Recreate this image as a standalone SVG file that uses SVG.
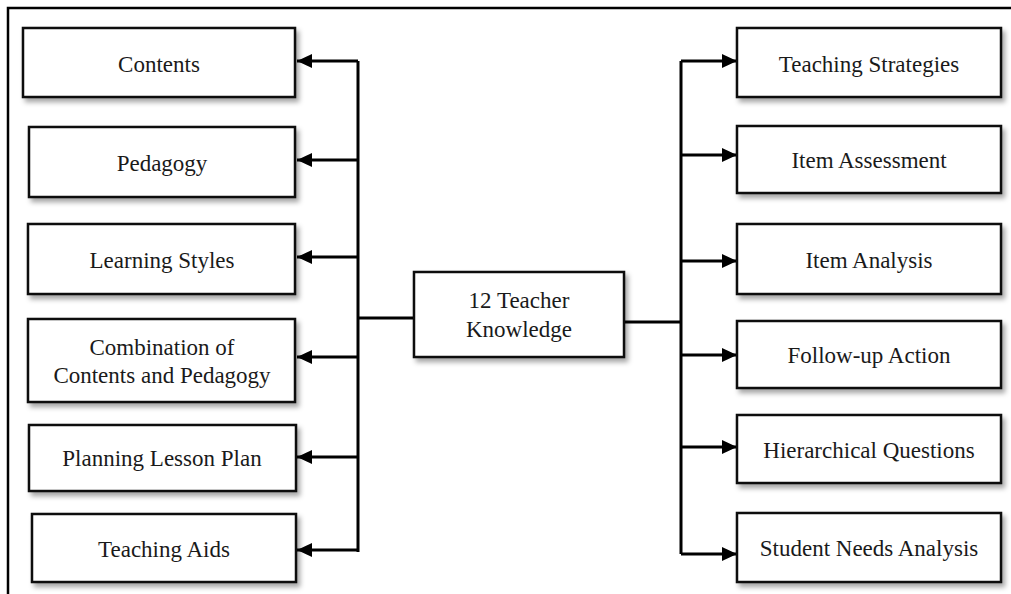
<svg xmlns="http://www.w3.org/2000/svg" width="1011" height="594" viewBox="0 0 1011 594">
<style>
.box{fill:#fff;stroke:#111;stroke-width:2.5;filter:url(#sh)}
.t{font-family:"Liberation Serif","Times New Roman",serif;font-size:23px;fill:#1a1a1a;text-anchor:middle}
.ln{fill:none;stroke:#000;stroke-width:3}
</style>
<defs>
<filter id="sh" x="-10%" y="-20%" width="125%" height="150%">
<feDropShadow dx="3" dy="4" stdDeviation="2.5" flood-color="#000" flood-opacity="0.35"/>
</filter>
<marker id="ah" markerUnits="userSpaceOnUse" markerWidth="16" markerHeight="14" refX="15" refY="7" orient="auto">
<path d="M0,0 L15,7 L0,14 Z" fill="#000"/>
</marker>
</defs>
<rect width="1011" height="594" fill="#fff"/>
<path d="M8,594 V8 H1011" fill="none" stroke="#000" stroke-width="2.5"/>
<g id="connectors">
<path class="ln" d="M358,61 V552"/>
<path class="ln" d="M358,61 H297" marker-end="url(#ah)"/>
<path class="ln" d="M358,160 H297" marker-end="url(#ah)"/>
<path class="ln" d="M358,257 H297" marker-end="url(#ah)"/>
<path class="ln" d="M358,357 H297" marker-end="url(#ah)"/>
<path class="ln" d="M358,457 H297" marker-end="url(#ah)"/>
<path class="ln" d="M358,550 H297" marker-end="url(#ah)"/>
<path class="ln" d="M358,318 H414"/>
<path class="ln" d="M624,322 H681"/>
<path class="ln" d="M681,61 V554"/>
<path class="ln" d="M681,61 H737" marker-end="url(#ah)"/>
<path class="ln" d="M681,155 H737" marker-end="url(#ah)"/>
<path class="ln" d="M681,261 H737" marker-end="url(#ah)"/>
<path class="ln" d="M681,355 H737" marker-end="url(#ah)"/>
<path class="ln" d="M681,447 H737" marker-end="url(#ah)"/>
<path class="ln" d="M681,554 H737" marker-end="url(#ah)"/>
</g>
<g id="contents"><rect class="box" x="23" y="28" width="272" height="69"/><text class="t" x="159" y="72">Contents</text></g>
<g id="pedagogy"><rect class="box" x="29" y="127" width="266" height="70"/><text class="t" x="162" y="171">Pedagogy</text></g>
<g id="learning-styles"><rect class="box" x="28" y="224" width="267" height="70"/><text class="t" x="162" y="268">Learning Styles</text></g>
<g id="combination"><rect class="box" x="28" y="319" width="267" height="83"/><text class="t" x="162" y="355">Combination of</text><text class="t" x="162" y="383">Contents and Pedagogy</text></g>
<g id="planning"><rect class="box" x="29" y="425" width="267" height="66"/><text class="t" x="162" y="466">Planning Lesson Plan</text></g>
<g id="teaching-aids"><rect class="box" x="32" y="514" width="264" height="68"/><text class="t" x="164" y="557">Teaching Aids</text></g>
<g id="center"><rect class="box" x="414" y="272" width="210" height="85"/><text class="t" x="519" y="308">12 Teacher</text><text class="t" x="519" y="337">Knowledge</text></g>
<g id="teaching-strategies"><rect class="box" x="737" y="28" width="264" height="69"/><text class="t" x="869" y="72">Teaching Strategies</text></g>
<g id="item-assessment"><rect class="box" x="737" y="126" width="264" height="67"/><text class="t" x="869" y="168">Item Assessment</text></g>
<g id="item-analysis"><rect class="box" x="737" y="224" width="264" height="70"/><text class="t" x="869" y="268">Item Analysis</text></g>
<g id="follow-up"><rect class="box" x="737" y="321" width="264" height="67"/><text class="t" x="869" y="363">Follow-up Action</text></g>
<g id="hierarchical"><rect class="box" x="737" y="415" width="264" height="68"/><text class="t" x="869" y="458">Hierarchical Questions</text></g>
<g id="student-needs"><rect class="box" x="737" y="513" width="264" height="69"/><text class="t" x="869" y="556">Student Needs Analysis</text></g>
</svg>
